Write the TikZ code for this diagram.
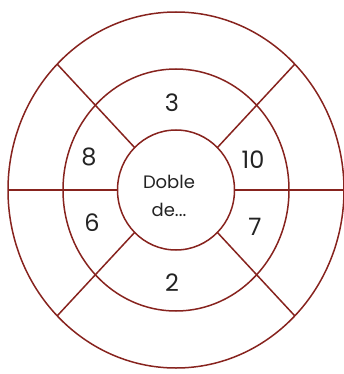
\documentclass[tikz,border=0pt]{standalone}
\usepackage{fontspec}
\setmainfont{Poppins}
\definecolor{ring}{RGB}{135,35,30}
\definecolor{ink}{RGB}{35,35,35}
\begin{document}
\begin{tikzpicture}[x=1pt,y=-1pt,
  ringline/.style={draw=ring,line width=1.5pt},
  num/.style={text=ink,font=\fontsize{24}{26}\selectfont},
  lbl/.style={text=ink,font=\fontsize{18}{20}\selectfont,align=center}]
\useasboundingbox (0,0) rectangle (344,374);
\coordinate (c) at (176,190);
% ellipses
\draw[ringline] (c) ellipse [x radius=168, y radius=178];
\draw[ringline] (c) ellipse [x radius=113, y radius=121];
\draw[ringline] (c) ellipse [x radius=58.5, y radius=60];
% spokes
\foreach \a in {0,45,135,180,225,315}{
  \draw[ringline] ({176+58.5*cos(\a)},{190+60*sin(\a)}) -- ({176+168*cos(\a)},{190+178*sin(\a)});
}
% labels
\node[num] (n3) at (172,103) {3};
\node[num] (n8) at (89,157) {8};
\node[num] (n10) at (253,160) {10};
\node[num] (n6) at (92,223) {6};
\node[num] (n7) at (255,227) {7};
\node[num] (n2) at (172,283) {2};
\node[lbl] (d1) at (169,182) {Doble};
\node[lbl] (d2) at (169,210) {de...};
\end{tikzpicture}
\end{document}
